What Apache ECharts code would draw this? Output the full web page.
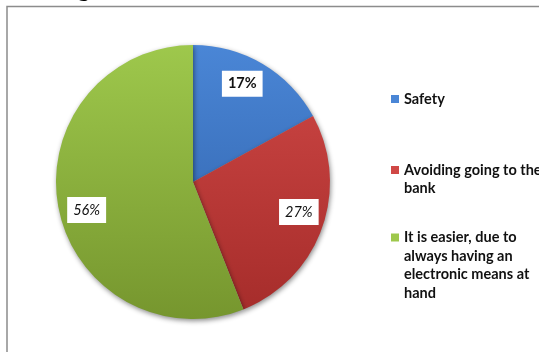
<!DOCTYPE html>
<html><head><meta charset="utf-8">
<script src="https://cdn.jsdelivr.net/npm/echarts@6/dist/echarts.min.js"></script>
<style>html,body{margin:0;padding:0;background:#fff}#c{width:539px;height:352px}</style>
</head><body><div id="c"></div>
<script>
const categories = ['Safety', 'Avoiding going to the bank', 'It is easier, due to always having an electronic means at hand'];
const values = [17, 27, 56];
const legendLines = [['Safety'], ['Avoiding going to the', 'bank'], ['It is easier, due to', 'always having an', 'electronic means at', 'hand']];
const colorTop = ['#4a86d6', '#d04846', '#9ec84c'];
const colorBottom = ['#2d5ea6', '#a52c2a', '#76962e'];

const CX = 193, CY = 182, R = 137, LH = 18.5;
const iconCenters = [99, 170, 237.5];

const chart = echarts.init(document.getElementById('c'), null, {renderer: 'canvas'});
const grad = (i) => ({type: 'linear', x: 0, y: CY - R, x2: 0, y2: CY + R, global: true,
  colorStops: [{offset: 0, color: colorTop[i]}, {offset: 1, color: colorBottom[i]}]});

const legends = categories.map((name, i) => {
  const n = legendLines[i].length;
  const H = (2 * n - 1) * LH;
  return {
    left: 391, top: iconCenters[i] - H / 2, padding: 0,
    itemWidth: 8, itemHeight: 8, icon: 'rect',
    data: [name],
    formatter: () => '\n'.repeat(n - 1) + legendLines[i].join('\n'),
    textStyle: {fontFamily: 'Lato', fontWeight: 'bold', fontSize: 14.5, color: '#111', lineHeight: LH},
    selectedMode: false
  };
});

chart.setOption({
  animation: false,
  color: colorTop,
  legend: legends,
  graphic: [
    {type: 'text', left: 3, top: -22, style: {text: 'Banking:', font: 'bold 24px "Liberation Serif"', fill: '#000'}},
    {type: 'rect', shape: {x: 7, y: 6.5, width: 600, height: 400}, style: {fill: 'none', stroke: '#8c8c8c', lineWidth: 1.5}, z: -1}
  ],
  series: [
    {
      type: 'pie', center: [CX, CY], radius: R, startAngle: 90, clockwise: true,
      label: {show: false}, labelLine: {show: false}, silent: true,
      itemStyle: {shadowBlur: 5, shadowOffsetX: 1, shadowOffsetY: 2, shadowColor: 'rgba(0,0,0,0.45)'},
      data: categories.map((name, i) => ({name: name, value: values[i], itemStyle: {color: grad(i)}}))
    },
    {
      type: 'pie', center: [CX, CY], radius: [77, R], startAngle: 94, clockwise: true,
      silent: true, legendHoverLink: false,
      itemStyle: {color: 'rgba(0,0,0,0)'},
      label: {show: true, position: 'inside', backgroundColor: '#fff', padding: [6, 6, 5, 6],
        fontFamily: 'Lato', fontSize: 14.5, color: '#111',
        formatter: (p) => values[p.dataIndex] + '%'},
      labelLine: {show: false},
      data: categories.map((name, i) => ({name: name + ' ', value: values[i],
        label: i === 0 ? {fontWeight: 'bold'} : {fontStyle: 'italic'}}))
    }
  ]
});
</script></body></html>
